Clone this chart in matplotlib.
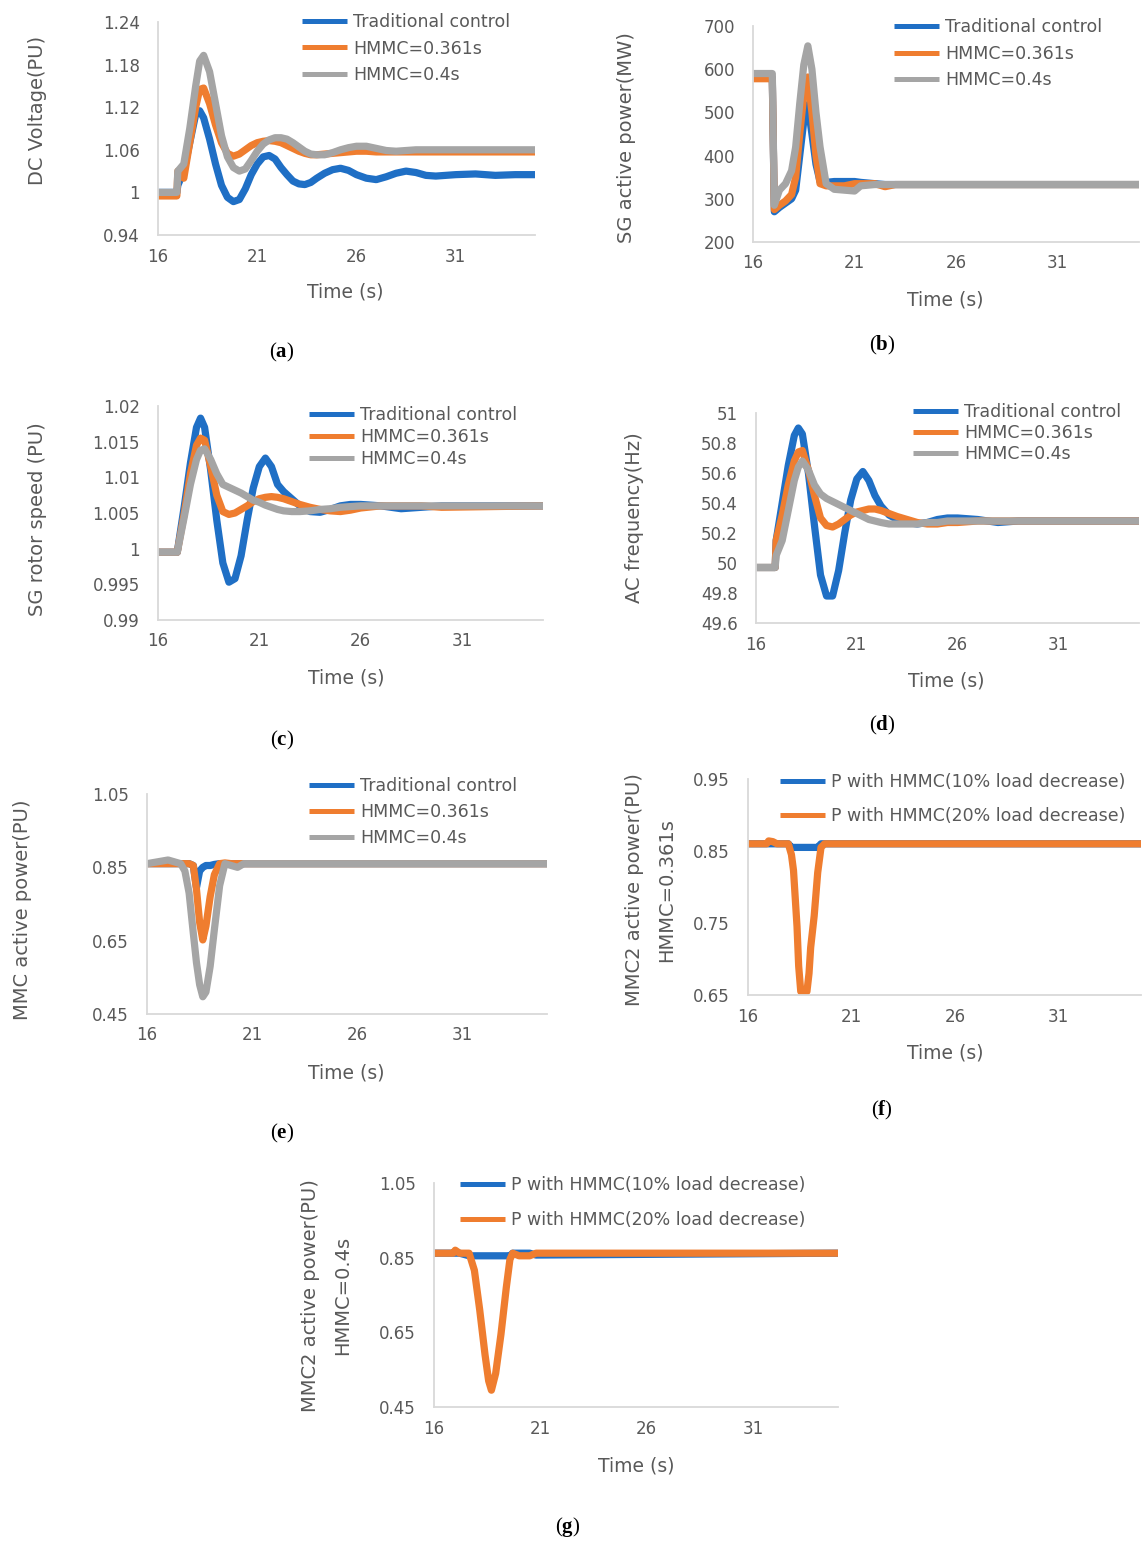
import matplotlib
matplotlib.use("Agg")
import matplotlib.pyplot as plt

W, H = 1142, 1542
BLUE = "#1f6fc5"
ORANGE = "#ef7d2f"
GRAY = "#a5a5a5"
TXT = "#595959"

plt.rcParams['font.family'] = ['DejaVu Sans']
plt.rcParams['mathtext.fontset'] = 'custom'
plt.rcParams['mathtext.bf'] = 'Liberation Serif:bold'

# ---- (a) DC voltage ----
t_a = [16, 16.95, 17.0, 17.3, 17.6, 17.9, 18.1, 18.3, 18.6, 18.9, 19.2, 19.5, 19.8, 20.1, 20.4,
       20.7, 21.0, 21.3, 21.6, 21.9, 22.2, 22.5, 22.8, 23.1, 23.4, 23.7, 24.0, 24.4, 24.8, 25.2,
       25.6, 26.0, 26.5, 27.0, 27.5, 28.0, 28.5, 29.0, 29.5, 30.0, 31.0, 32.0, 33.0, 34.0, 35.0]
dc_trad = [1.0, 1.0, 1.01, 1.03, 1.07, 1.11, 1.115, 1.105, 1.075, 1.04, 1.01, 0.993, 0.987, 0.99, 1.005,
           1.025, 1.04, 1.05, 1.052, 1.047, 1.035, 1.025, 1.016, 1.012, 1.011, 1.014, 1.02, 1.027, 1.032, 1.034,
           1.031, 1.025, 1.02, 1.018, 1.022, 1.027, 1.03, 1.028, 1.024, 1.023, 1.025, 1.026, 1.024, 1.025, 1.025]
dc_0361 = [0.995, 0.995, 1.03, 1.02, 1.07, 1.12, 1.145, 1.147, 1.125, 1.095, 1.07, 1.055, 1.051, 1.054, 1.06,
           1.066, 1.07, 1.072, 1.073, 1.072, 1.07, 1.066, 1.062, 1.058, 1.055, 1.053, 1.053, 1.054, 1.055, 1.056,
           1.057, 1.058, 1.058, 1.057, 1.057, 1.057, 1.057, 1.057, 1.057, 1.057, 1.057, 1.057, 1.057, 1.057, 1.057]
dc_04 = [1.0, 1.0, 1.03, 1.04, 1.09, 1.15, 1.185, 1.193, 1.17, 1.125, 1.08, 1.05, 1.035, 1.03, 1.033,
         1.045, 1.058, 1.068, 1.074, 1.077, 1.077, 1.075, 1.07, 1.064, 1.058, 1.054, 1.053, 1.053, 1.056, 1.06,
         1.063, 1.065, 1.065, 1.062, 1.059, 1.058, 1.059, 1.06, 1.06, 1.06, 1.06, 1.06, 1.06, 1.06, 1.06]

# ---- (b) SG active power ----
t_b = [16, 16.95, 17.05, 17.3, 17.6, 17.9, 18.1, 18.3, 18.5, 18.7, 18.9, 19.1, 19.3, 19.6,
       20.0, 20.5, 21.0, 21.3, 22.0, 22.5, 23.0, 24.0, 35.0]
sg_trad = [580, 580, 270, 280, 290, 300, 320, 400, 480, 518, 450, 380, 340, 338,
           340, 340, 340, 338, 335, 333, 333, 333, 333]
sg_0361 = [578, 578, 275, 285, 295, 310, 350, 450, 540, 582, 500, 400, 335, 330,
           330, 330, 335, 335, 335, 328, 333, 333, 333]
sg_04 = [590, 590, 285, 320, 335, 365, 420, 520, 610, 654, 600, 500, 420, 335,
         322, 320, 318, 330, 333, 333, 333, 333, 333]

# ---- (c) SG rotor speed ----
t_c = [16, 16.95, 17.3, 17.6, 17.9, 18.1, 18.3, 18.6, 18.9, 19.2, 19.5, 19.8, 20.1, 20.4, 20.7,
       21.0, 21.3, 21.6, 21.9, 22.2, 22.6, 23.0, 23.5, 24.0, 24.5, 25.0, 25.5, 26.0, 27.0, 28.0,
       29.0, 30.0, 35.0]
rs_trad = [0.9995, 0.9995, 1.006, 1.012, 1.017, 1.0183, 1.017, 1.011, 1.004, 0.998, 0.9953, 0.9958, 0.999, 1.004, 1.0085,
           1.0115, 1.0127, 1.0115, 1.009, 1.008, 1.007, 1.006, 1.0052, 1.0051, 1.0055, 1.006, 1.0062, 1.0062, 1.006, 1.0056,
           1.0058, 1.006, 1.006]
rs_0361 = [0.9995, 0.9995, 1.005, 1.0105, 1.0145, 1.0155, 1.0152, 1.0115, 1.0075, 1.0052, 1.0048, 1.005, 1.0055, 1.006, 1.0066,
           1.007, 1.0072, 1.0073, 1.0072, 1.007, 1.0066, 1.0062, 1.0058, 1.0055, 1.0053, 1.0052, 1.0054, 1.0057, 1.006, 1.006,
           1.006, 1.0058, 1.006]
rs_04 = [0.9995, 0.9995, 1.0045, 1.009, 1.0125, 1.0138, 1.014, 1.0125, 1.0105, 1.009, 1.0086, 1.0082, 1.0078, 1.0073, 1.0068,
         1.0065, 1.0061, 1.0058, 1.0055, 1.0053, 1.0052, 1.0052, 1.0053, 1.0055, 1.0056, 1.0058, 1.0059, 1.006, 1.006, 1.006,
         1.006, 1.006, 1.006]

# ---- (d) AC frequency ----
t_d = [16, 16.95, 17.0, 17.3, 17.6, 17.9, 18.1, 18.3, 18.6, 18.9, 19.2, 19.5, 19.8, 20.1, 20.4, 20.7,
       21.0, 21.3, 21.6, 21.9, 22.2, 22.6, 23.0, 23.5, 24.0, 24.5, 25.0, 25.5, 26.0, 27.0, 28.0, 29.0,
       30.0, 35.0]
f_trad = [49.97, 49.97, 50.15, 50.4, 50.65, 50.85, 50.9, 50.86, 50.6, 50.25, 49.92, 49.78, 49.78, 49.95, 50.2, 50.42,
          50.56, 50.61, 50.55, 50.45, 50.38, 50.32, 50.29, 50.27, 50.26, 50.27, 50.29, 50.3, 50.3, 50.29, 50.27, 50.28,
          50.28, 50.28]
f_0361 = [49.97, 49.97, 50.15, 50.32, 50.52, 50.68, 50.74, 50.75, 50.62, 50.45, 50.3, 50.25, 50.24, 50.26, 50.29, 50.32,
          50.34, 50.35, 50.36, 50.36, 50.35, 50.33, 50.31, 50.29, 50.27, 50.26, 50.26, 50.27, 50.27, 50.28, 50.28, 50.28,
          50.28, 50.28]
f_04 = [49.97, 49.97, 50.05, 50.15, 50.35, 50.55, 50.64, 50.68, 50.62, 50.52, 50.46, 50.43, 50.41, 50.39, 50.37, 50.35,
        50.33, 50.31, 50.29, 50.28, 50.27, 50.26, 50.26, 50.26, 50.26, 50.27, 50.27, 50.28, 50.28, 50.28, 50.28, 50.28,
        50.28, 50.28]

# ---- (e) MMC active power ----
t_e = [16, 17.0, 17.6, 17.8, 18.0, 18.2, 18.35, 18.5, 18.65, 18.8, 19.0, 19.2, 19.45, 19.7, 20.0, 20.3, 20.6, 35]
mmc_trad = [0.86, 0.86, 0.86, 0.86, 0.86, 0.855, 0.795, 0.84, 0.85, 0.855, 0.855, 0.858, 0.86, 0.86, 0.86, 0.86, 0.86, 0.86]
mmc_0361 = [0.86, 0.86, 0.86, 0.86, 0.86, 0.855, 0.79, 0.70, 0.652, 0.69, 0.77, 0.83, 0.86, 0.862, 0.86, 0.86, 0.86, 0.86]
mmc_04 = [0.86, 0.87, 0.86, 0.84, 0.78, 0.67, 0.59, 0.53, 0.497, 0.51, 0.58, 0.68, 0.80, 0.86, 0.855, 0.85, 0.86, 0.86]

# ---- (f) MMC2 active power, HMMC=0.361s ----
t_f = [16, 16.9, 17.0, 17.2, 17.4, 17.95, 18.1, 18.2, 18.37, 18.45, 18.55, 18.7, 18.85, 18.95, 19.03,
       19.2, 19.37, 19.53, 19.7, 35]
m2a_10 = [0.86, 0.86, 0.86, 0.86, 0.86, 0.86, 0.855, 0.855, 0.855, 0.855, 0.855, 0.855, 0.855, 0.855, 0.855,
          0.855, 0.855, 0.86, 0.86, 0.86]
m2a_20 = [0.86, 0.86, 0.864, 0.863, 0.86, 0.86, 0.845, 0.823, 0.745, 0.69, 0.655, 0.65, 0.655, 0.68, 0.716,
          0.76, 0.82, 0.855, 0.86, 0.86]

# ---- (g) MMC2 active power, HMMC=0.4s ----
t_g = [16, 16.9, 17.0, 17.2, 17.65, 17.9, 18.15, 18.4, 18.57, 18.7, 18.9, 19.15, 19.4, 19.57, 19.7,
       20.0, 20.5, 20.8, 35]
m2b_10 = [0.862, 0.862, 0.862, 0.862, 0.855, 0.855, 0.855, 0.855, 0.855, 0.855, 0.855, 0.855, 0.855, 0.855, 0.862,
          0.862, 0.862, 0.857, 0.862]
m2b_20 = [0.862, 0.862, 0.87, 0.862, 0.862, 0.816, 0.71, 0.59, 0.52, 0.495, 0.54, 0.645, 0.77, 0.845, 0.862,
          0.855, 0.855, 0.862, 0.862]

x_ticks = [16, 21, 26, 31]
labels3 = ["Traditional control", "HMMC=0.361s", "HMMC=0.4s"]
labels2 = ["P with HMMC(10% load decrease)", "P with HMMC(20% load decrease)"]


def fx(x):
    return x / W


def fy(y):
    return 1 - y / H


def panel(box, t, series, colors, names, yticks, ylabels, leg, xlab, ylab, cap):
    l, r, top, bot = box
    ax = fig.add_axes([fx(l), fy(bot), (r - l) / W, (bot - top) / H])
    for s, c, n in zip(series, colors, names):
        ax.plot(t, s, color=c, lw=5.2, label=n, solid_capstyle='butt')
    ax.set_xlim(16, 35)
    ax.set_ylim(yticks[-1], yticks[0])
    ax.set_xticks(x_ticks)
    ax.set_xticklabels([str(v) for v in x_ticks])
    ax.set_yticks(yticks)
    ax.set_yticklabels(ylabels)
    ax.tick_params(length=0, colors=TXT, labelsize=12)
    ax.tick_params(axis='y', pad=13)
    ax.tick_params(axis='x', pad=9)
    for sp in ['top', 'right']:
        ax.spines[sp].set_visible(False)
    for sp in ['left', 'bottom']:
        ax.spines[sp].set_color('#d9d9d9')
        ax.spines[sp].set_linewidth(1.3)
    lx, ly, lsp = leg
    lg = ax.legend(loc='upper left', bbox_to_anchor=(fx(lx), fy(ly - 10)), bbox_transform=fig.transFigure,
                   frameon=False, borderpad=0, borderaxespad=0, handlelength=2.6, handletextpad=0.35,
                   labelspacing=lsp, fontsize=12.5)
    for tx in lg.get_texts():
        tx.set_color(TXT)
    for hl in lg.get_lines():
        hl.set_linewidth(3.6)
    fig.text(fx(xlab[0]), fy(xlab[1]), "Time (s)", ha='center', va='center', fontsize=13.5, color=TXT)
    for (yx, yy, ys) in ylab:
        fig.text(fx(yx), fy(yy), ys, ha='center', va='center', rotation=90, fontsize=14, color=TXT)
    fig.text(fx(cap[0]), fy(cap[1]), r'($\mathbf{%s}$)' % cap[2], ha='center', va='center',
             fontsize=15, family='Liberation Serif', color='black')
    return ax


fig = plt.figure(figsize=(W / 100, H / 100), dpi=100)
c3 = [BLUE, ORANGE, GRAY]
c2 = [BLUE, ORANGE]

panel((158, 535, 22, 235), t_a, [dc_trad, dc_0361, dc_04], c3, labels3,
      [1.24, 1.18, 1.12, 1.06, 1.0, 0.94], ['1.24', '1.18', '1.12', '1.06', '1', '0.94'],
      (302, 23, 0.49), (345, 292), [(38, 110, "DC Voltage(PU)")], (282, 352, 'a'))

panel((753, 1139, 26, 242), t_b, [sg_trad, sg_0361, sg_04], c3, labels3,
      [700, 600, 500, 400, 300, 200], ['700', '600', '500', '400', '300', '200'],
      (894, 28, 0.5), (945, 300), [(627, 138, "SG active power(MW)")], (882, 345, 'b'))

panel((158, 543, 406, 620), t_c, [rs_trad, rs_0361, rs_04], c3, labels3,
      [1.02, 1.015, 1.01, 1.005, 1.0, 0.995, 0.99],
      ['1.02', '1.015', '1.01', '1.005', '1', '0.995', '0.99'],
      (309, 416, 0.23), (346, 678), [(38, 519, "SG rotor speed (PU)")], (282, 740, 'c'))

panel((756, 1139, 413, 623), t_d, [f_trad, f_0361, f_04], c3, labels3,
      [51, 50.8, 50.6, 50.4, 50.2, 50, 49.8, 49.6],
      ['51', '50.8', '50.6', '50.4', '50.2', '50', '49.8', '49.6'],
      (913, 413, 0.17), (946, 681), [(635, 518, "AC frequency(Hz)")], (882, 725, 'd'))

panel((147, 547, 794, 1014), t_e, [mmc_trad, mmc_0361, mmc_04], c3, labels3,
      [1.05, 0.85, 0.65, 0.45], ['1.05', '0.85', '0.65', '0.45'],
      (309, 787, 0.46), (346, 1073), [(23, 910, "MMC active power(PU)")], (282, 1133, 'e'))

panel((748, 1141, 779, 995), t_f, [m2a_10, m2a_20], c2, labels2,
      [0.95, 0.85, 0.75, 0.65], ['0.95', '0.85', '0.75', '0.65'],
      (780, 783, 0.92), (945, 1053),
      [(635, 890, "MMC2 active power(PU)"), (667, 890, "HMMC=0.361s")], (882, 1110, 'f'))

panel((434, 838, 1183, 1407), t_g, [m2b_10, m2b_20], c2, labels2,
      [1.05, 0.85, 0.65, 0.45], ['1.05', '0.85', '0.65', '0.45'],
      (460, 1186, 0.98), (636, 1466),
      [(311, 1296, "MMC2 active power(PU)"), (343, 1295, "HMMC=0.4s")], (568, 1527, 'g'))

fig.savefig('out.png', dpi=100)
